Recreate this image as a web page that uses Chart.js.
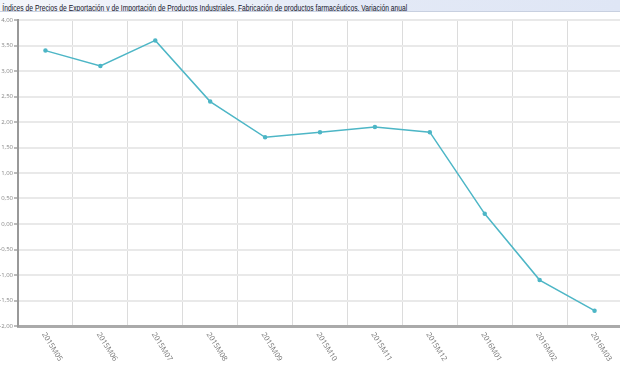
<!DOCTYPE html>
<html><head><meta charset="utf-8">
<script src="https://cdn.jsdelivr.net/npm/chart.js@4/dist/chart.umd.min.js"></script>
<style>
html,body{margin:0;padding:0;width:620px;height:368px;overflow:hidden;background:#fff;}
#wrap{position:absolute;left:0;top:0;width:625px;height:368px;}
#title{position:absolute;left:0;top:0;width:620px;height:12px;background:linear-gradient(to right,#f4f6fb,#e3e9f6 60%,#dfe6f5);border-bottom:1px solid #c8d0e0;line-height:12px;box-sizing:border-box;white-space:nowrap;z-index:2;overflow:hidden;}
#title span{display:inline-block;transform-origin:0 50%;transform:scaleX(0.75);font:9px "Liberation Sans",Arial,sans-serif;color:#15152a;padding-left:3px;}
</style></head>
<body>
<div id="wrap"><canvas id="c" width="625" height="368"></canvas></div>
<div id="title"><span>Índices de Precios de Exportación y de Importación de Productos Industriales, Fabricación de productos farmacéuticos, Variación anual</span></div>
<script>
const categories = ["2015M05","2015M06","2015M07","2015M08","2015M09","2015M10","2015M11","2015M12","2016M01","2016M02","2016M03"];
const values = [3.4, 3.1, 3.6, 2.4, 1.7, 1.8, 1.9, 1.8, 0.2, -1.1, -1.7];
const yMin = -2, yMax = 4, yStep = 0.5;

const rotatedLabels = {
  id: 'rotatedLabels',
  afterDraw(chart) {
    const sc = chart.scales.x, ctx = chart.ctx;
    ctx.save();
    ctx.font = '7.5px "Open Sans", sans-serif';
    ctx.fillStyle = '#777';
    ctx.textAlign = 'left';
    ctx.textBaseline = 'middle';
    sc.ticks.forEach((t, i) => {
      const x = sc.getPixelForTick(i);
      ctx.save();
      ctx.translate(x - 2, sc.top + 7);
      ctx.rotate(58 * Math.PI / 180);
      ctx.fillText(categories[i], 0, 0);
      ctx.restore();
    });
    ctx.restore();
  }
};

new Chart(document.getElementById('c'), {
  type: 'line',
  data: {
    labels: categories,
    datasets: [{
      data: values,
      borderColor: '#4db6c6',
      backgroundColor: '#4db6c6',
      borderWidth: 1.5,
      pointRadius: 1.5,
      pointHoverRadius: 1.5,
      tension: 0,
      fill: false
    }]
  },
  options: {
    responsive: false,
    animation: false,
    layout: { padding: { top: 20, right: 0, left: 0, bottom: 0 } },
    plugins: { legend: { display: false }, tooltip: { enabled: false }, title: { display: false } },
    scales: {
      x: {
        offset: true,
        grid: { offset: true, color: '#dcdcdc', lineWidth: 1, drawTicks: false },
        border: { color: '#aaa', width: 3 },
        ticks: { display: false },
        afterFit(s) { s.height = 42; }
      },
      y: {
        min: yMin, max: yMax,
        grid: { color: '#e9e9e9', lineWidth: 2, tickLength: 4, tickColor: '#bbb' },
        border: { color: '#999', width: 2 },
        ticks: {
          stepSize: yStep, padding: 1,
          font: { size: 6, family: '"Open Sans", sans-serif' },
          color: '#888',
          callback: v => Number(v).toFixed(2).replace('.', ',')
        },
        afterFit(s) { s.width = 18; }
      }
    }
  },
  plugins: [rotatedLabels]
});
</script>
</body></html>
